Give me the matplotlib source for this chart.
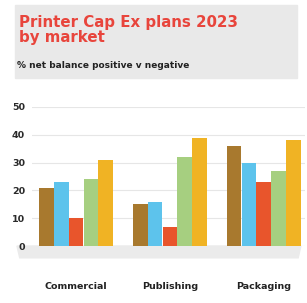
import numpy as np
import matplotlib.pyplot as plt
from matplotlib.patches import Rectangle, Polygon

# données
markets = ["Commercial", "Publishing", "Packaging"]
series_colors = ["#A8792E", "#5DC3EC", "#E8552C", "#A6CF80", "#F0B324"]
values = [
    [21, 23, 10, 24, 31],  # Commercial
    [15, 16, 7, 32, 39],   # Publishing
    [36, 30, 23, 27, 38],  # Packaging
]
yticks = [0, 10, 20, 30, 40, 50]

def main():
    fig = plt.figure(figsize=(3.07, 3.03), dpi=100)

    # bandeau du titre
    fig.patches.append(Rectangle((15/307, 1 - 78/303), 282/307, 73/303,
                                 transform=fig.transFigure, color="#E9E9E9", zorder=0))
    fig.text(19/307, 1 - 30/303, "Printer Cap Ex plans 2023\nby market",
             color="#E8453C", fontsize=10.8, fontweight="bold",
             va="center", ha="left", linespacing=0.95)
    fig.text(17/307, 1 - 65/303, "% net balance positive v negative",
             color="#222222", fontsize=6.5, fontweight="bold", va="center", ha="left")

    ax = fig.add_axes([32/307, (303-246)/303, (305-32)/307, 139/303])
    n = len(series_colors)
    w = 0.155
    x = np.arange(len(markets))
    for j in range(n):
        vals = [values[i][j] for i in range(len(markets))]
        ax.bar(x + (j - (n-1)/2) * 0.158, vals, width=w, color=series_colors[j], zorder=3)

    ax.set_ylim(0, 50)
    ax.set_xlim(-0.47, 2.44)
    ax.set_yticks(yticks)
    ax.set_yticklabels([str(t) for t in yticks], fontsize=6.8, fontweight="bold",
                       color="#2A2A2A")
    ax.tick_params(axis="y", length=0, pad=5)
    ax.set_xticks(x)
    ax.set_xticklabels(markets, fontsize=6.8, fontweight="bold", color="#222222")
    ax.tick_params(axis="x", length=0, pad=26)
    ax.grid(axis="y", color="#E6E6E6", linewidth=0.8, zorder=0)
    ax.set_axisbelow(True)
    for s in ax.spines.values():
        s.set_visible(False)

    # sol gris sous les barres
    floor = Polygon([(-0.055, 0), (0.985, 0), (0.975, -0.085), (-0.045, -0.085)],
                    closed=True, transform=ax.transAxes, color="#EBEBEB",
                    clip_on=False, zorder=0.2)
    ax.add_patch(floor)

    fig.savefig("out.png", dpi=100)

if __name__ == "__main__":
    main()
